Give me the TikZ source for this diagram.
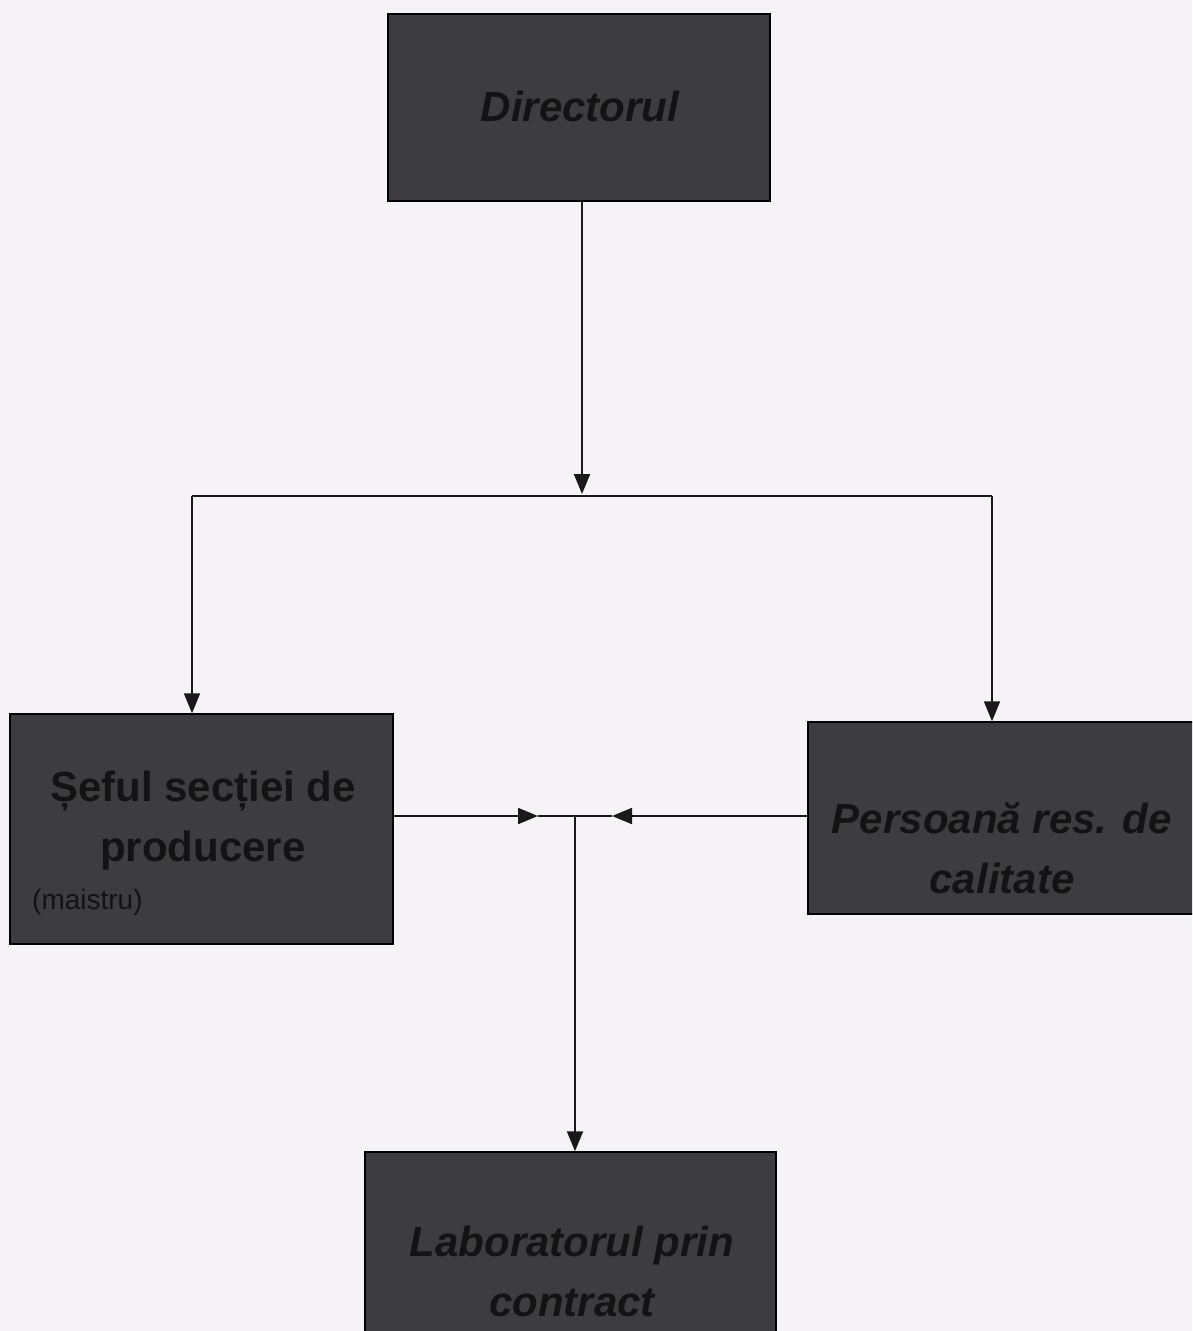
\documentclass[tikz,border=0pt]{standalone}
\usepackage{fontspec}
\setmainfont{Liberation Sans}
\usetikzlibrary{arrows.meta}
\definecolor{bg}{HTML}{F5F3F6}
\definecolor{boxfill}{HTML}{3D3D3F}
\definecolor{txt}{HTML}{131313}
\tikzset{
  orgbox/.style={draw=black, line width=1.5pt, fill=boxfill, rectangle, inner sep=0pt},
  boxtext/.style={text=txt, align=center, font=\fontsize{42}{60}\selectfont\bfseries\itshape, inner sep=0pt},
  conn/.style={line width=2pt, draw=black!90},
  arr/.style={conn, -{Triangle[length=20pt,width=16pt]}},
}
\begin{document}
\begin{tikzpicture}[x=1pt,y=-1pt]
\useasboundingbox (0,0) rectangle (1192,1331);
\clip (0,0) rectangle (1192,1331);
\fill[bg] (0,0) rectangle (1192,1331);

% boxes
\node[orgbox, minimum width=382pt, minimum height=187pt] (dir) at (579,107.5) {};
\node[orgbox, minimum width=383pt, minimum height=230pt] (sef) at (201.5,829) {};
\node[orgbox, minimum width=390pt, minimum height=192pt] (pers) at (1003,818) {};
\node[orgbox, minimum width=411pt, minimum height=190pt] (lab) at (570.5,1247) {};

% texts
\node[boxtext] (dirT) at (580,106) {Directorul};
\node[boxtext, font=\fontsize{42}{60}\selectfont\bfseries] (sefT) at (203,821) {Șeful secției de\\producere};
\node[text=txt, font=\fontsize{28}{30}\selectfont, anchor=west, inner sep=0pt] (sefM) at (32,902) {(maistru)};
\node[boxtext] (persT) at (1002,848) {Persoană res. de\\calitate};
\node[boxtext] (labT) at (572,1271) {Laboratorul prin\\contract};

% bus coordinates
\coordinate (busM) at (582,494);
\coordinate (busL) at (192,496);
\coordinate (busR) at (992,496);
\coordinate (jM) at (575,816);
\coordinate (jL) at (538,816);
\coordinate (jR) at (612,816);

% connectors
\draw[arr] (dir.south -| busM) -- (busM);
\draw[conn] (busL) -- (busR);
\draw[arr] (busL) -- (sef.north -| busL);
\draw[arr] (busR) -- (pers.north -| busR);
\draw[arr] (sef.east |- jM) -- (jL);
\draw[arr] (pers.west |- jM) -- (jR);
\draw[conn] (jL) -- (jR);
\draw[arr] (jM) -- (lab.north -| jM);
\end{tikzpicture}
\end{document}
